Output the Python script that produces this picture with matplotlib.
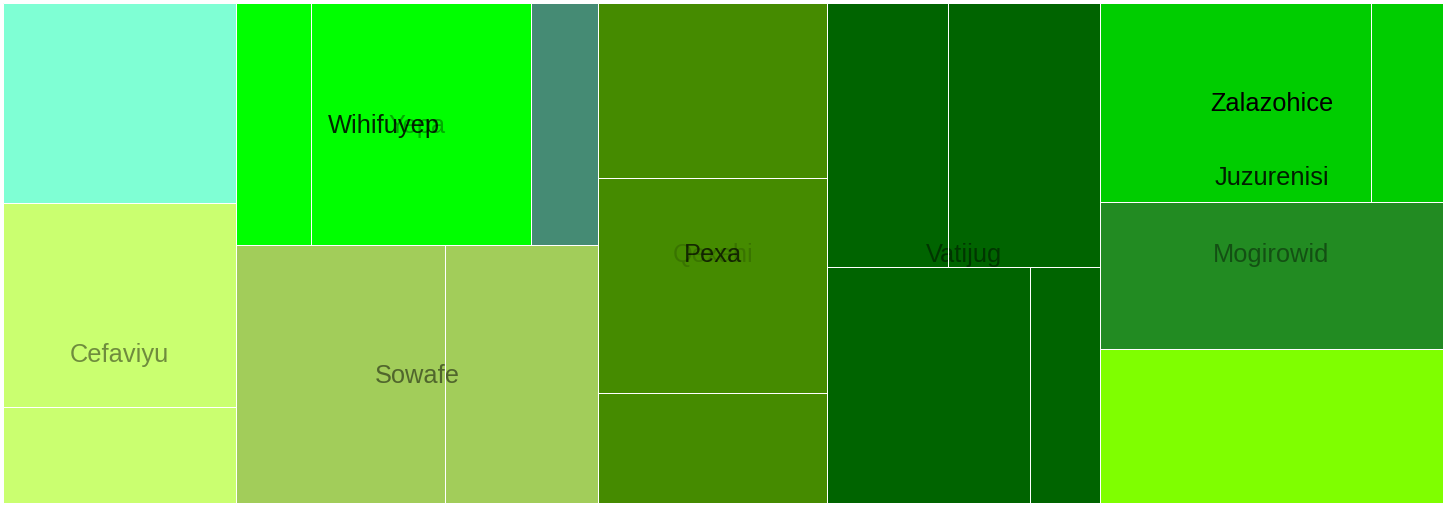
import matplotlib
matplotlib.use("Agg")
import matplotlib.pyplot as plt
from matplotlib.patches import Rectangle

# ---------------- data ----------------
lone_value = 46.6
cefaviyu_values = [47.5, 22.4]
wihifuyep_values = [18.2, 53.2]
yepa_leaf_value = 16.2
sowafe_values = [53.9, 39.5]
pexa_values = [40.1, 49.2, 25.2]
vatijug_values = [31.9, 40.1, 47.9, 16.5]
zalazohice_values = [53.9, 14.3]
juzurenisi_leaf_value = 50.4
mogirowid_leaf_value = 52.8

# ---------------- style ----------------
label_alpha = {
    "Cefaviyu": 0.45, "Yepa": 0.33, "Wihifuyep": 0.85, "Sowafe": 0.5,
    "Qexahi": 0.16, "Pexa": 0.7, "Vatijug": 0.45, "Mogirowid": 0.42,
    "Juzurenisi": 0.85, "Zalazohice": 1.0,
}
FONT_PT = 18.3
DPI = 100


def leaf(v, color=None):
    return {"name": None, "value": v, "children": None, "color": color}


def group(name, children, color=None):
    return {"name": name, "value": sum(c["value"] for c in children),
            "children": children, "color": color}


tree = group(None, [
    leaf(lone_value, "#7FFFD4"),
    group("Cefaviyu", [leaf(v) for v in cefaviyu_values], "#CAFF70"),
    group("Yepa", [
        group("Wihifuyep", [leaf(v) for v in wihifuyep_values], "#00FF00"),
        leaf(yepa_leaf_value, "#458B74"),
    ]),
    group("Sowafe", [leaf(v) for v in sowafe_values], "#A2CD5A"),
    group("Qexahi", [group("Pexa", [leaf(v) for v in pexa_values])], "#458B00"),
    group("Vatijug", [leaf(v) for v in vatijug_values], "#006400"),
    group("Mogirowid", [
        group("Juzurenisi", [
            group("Zalazohice", [leaf(v) for v in zalazohice_values], "#00CD00"),
            leaf(juzurenisi_leaf_value, "#228B22"),
        ]),
        leaf(mogirowid_leaf_value, "#7FFF00"),
    ]),
])


# ---------------- squarified layout (y grows downward) ----------------
def layout_row(sizes, x, y, dx, dy):
    rects = []
    if dx >= dy:
        w = sum(sizes) / dy
        for s in sizes:
            h = s / w
            rects.append((x, y, w, h))
            y += h
    else:
        h = sum(sizes) / dx
        for s in sizes:
            w = s / h
            rects.append((x, y, w, h))
            x += w
    return rects


def worst(sizes, x, y, dx, dy):
    return max(max(r[2] / r[3], r[3] / r[2]) for r in layout_row(sizes, x, y, dx, dy))


def squarify(sizes, x, y, dx, dy):
    if not sizes:
        return []
    if len(sizes) == 1:
        return layout_row(sizes, x, y, dx, dy)
    i = 1
    while i < len(sizes) and worst(sizes[:i], x, y, dx, dy) >= worst(sizes[:i + 1], x, y, dx, dy):
        i += 1
    cur, rest = sizes[:i], sizes[i:]
    rects = layout_row(cur, x, y, dx, dy)
    a = sum(cur)
    if dx >= dy:
        w = a / dy
        return rects + squarify(rest, x + w, y, dx - w, dy)
    h = a / dx
    return rects + squarify(rest, x, y + h, dx, dy - h)


leaves_out = []
labels_out = []


def assign(node, rect, color, depth):
    x, y, dx, dy = rect
    color = node["color"] or color
    if node["children"] is None:
        leaves_out.append((rect, color))
        return
    if node["name"]:
        labels_out.append((node["name"], x + dx / 2, y + dy / 2))
    total = node["value"]
    sizes = [c["value"] / total * dx * dy for c in node["children"]]
    for c, r in zip(node["children"], squarify(sizes, x, y, dx, dy)):
        assign(c, r, color, depth + 1)


W, H = 1446, 507
assign(tree, (3, 3, 1440, 500), None, 0)

fig = plt.figure(figsize=(W / DPI, H / DPI), dpi=DPI)
ax = fig.add_axes([0, 0, 1, 1])
ax.set_xlim(0, W)
ax.set_ylim(H, 0)
ax.axis("off")

for (x, y, dx, dy), c in leaves_out:
    ax.add_patch(Rectangle((x, y), dx, dy, facecolor=c, edgecolor="none", zorder=1))

font_px = FONT_PT * DPI / 72
for name, cx, cy in labels_out:
    ax.text(cx, cy + 0.35 * font_px, name, ha="center", va="baseline",
            fontsize=FONT_PT, family="Liberation Sans", color="black",
            alpha=label_alpha.get(name, 1.0), zorder=2)

for (x, y, dx, dy), c in leaves_out:
    ax.add_patch(Rectangle((x, y), dx, dy, facecolor="none", edgecolor="white",
                           linewidth=72 / DPI, zorder=3))

fig.savefig("out.png", dpi=DPI, facecolor="white")
